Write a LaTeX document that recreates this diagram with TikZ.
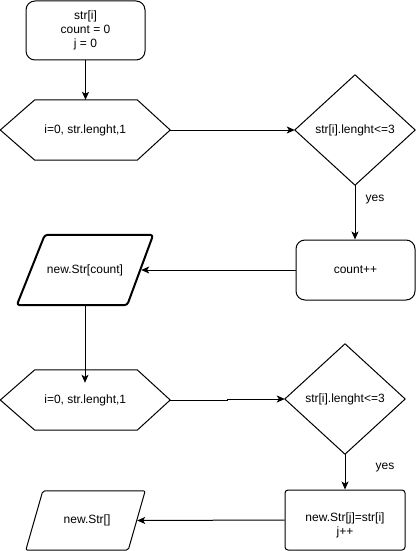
\documentclass[tikz,border=0pt]{standalone}
\usepackage{fontspec}
\setmainfont{Liberation Sans}
\usetikzlibrary{arrows.meta,calc}
\begin{document}
\begin{tikzpicture}[x=1pt,y=-1pt,
  every node/.style={font=\fontsize{12}{14}\selectfont},
  anchorbox/.style 2 args={draw=none, inner sep=0pt, minimum width=#1pt, minimum height=#2pt},
  outline/.style={draw, line width=1pt, line join=round},
  roundbox/.style={draw, line width=1pt, rounded corners=9pt, inner sep=0pt, align=center},
  flow/.style={line width=1pt, -{Stealth[length=8pt,width=7pt,inset=2pt]}}
]
\useasboundingbox (0,0) rectangle (416,551);

% start block
\node[roundbox, minimum width=119pt, minimum height=59pt] (start) at (85.5,30.5) {str[i]\\count = 0\\j = 0};

% first loop header (hexagon)
\node[anchorbox={169.5}{60}] (loop1) at (85.25,130) {i=0, str.lenght,1};
\draw[outline] (loop1.west) -- ($(loop1.north west)+(34.5,0)$) -- ($(loop1.north east)+(-33,0)$)
  -- (loop1.east) -- ($(loop1.south east)+(-33,0)$) -- ($(loop1.south west)+(34.5,0)$) -- cycle;

% first condition
\node[anchorbox={120}{110}] (test1) at (355,130) {str[i].lenght<=3};
\draw[outline] (test1.west) -- (test1.north) -- (test1.east) -- (test1.south) -- cycle;

% counter increment
\node[roundbox, minimum width=119pt, minimum height=60pt] (inc1) at (355.5,270) {count++};

% new array declaration (bold parallelogram)
\node[anchorbox={136}{70}] (out1) at (85,270) {new.Str[count]};
\draw[line width=2pt, rounded corners=3pt, line join=round] ($(out1.north west)+(28,0)$) -- (out1.north east)
  -- ($(out1.south east)+(-26,0)$) -- (out1.south west) -- cycle;
\coordinate (out1r) at ($(out1.east)+(-12,0)$);

% second loop header (hexagon)
\node[anchorbox={169.5}{60}] (loop2) at (85.25,400) {i=0, str.lenght,1};
\draw[outline] (loop2.west) -- ($(loop2.north west)+(34.5,0)$) -- ($(loop2.north east)+(-33,0)$)
  -- (loop2.east) -- ($(loop2.south east)+(-33,0)$) -- ($(loop2.south west)+(34.5,0)$) -- cycle;
\coordinate (into2) at ($(loop2.north)+(0,13)$);

% second condition
\node[anchorbox={120}{110}] (test2) at (345,399) {str[i].lenght<=3};
\draw[outline] (test2.west) -- (test2.north) -- (test2.east) -- (test2.south) -- cycle;

% copy step
\node[roundbox, rounded corners=3pt, minimum width=120pt, minimum height=60pt] (copy) at (345,520) {};
\node[align=center, inner sep=0pt] (copytxt) at (345,525) {new.Str[j]=str[i]\\j++};

% result array (parallelogram)
\node[anchorbox={119}{59}] (out2) at (85.5,520.5) {};
\node[inner sep=0pt] (out2txt) at (87,520) {new.Str[]};
\draw[line width=1pt, rounded corners=2pt, line join=round] ($(out2.north west)+(17,0)$) -- (out2.north east)
  -- ($(out2.south east)+(-17,0)$) -- (out2.south west) -- cycle;
\coordinate (out2r) at ($(out2.east)+(-8,0)$);

% connectors
\draw[flow] (start.south) -- (start.south |- loop1.north);
\draw[flow] (loop1.east) -- (test1.west);
\draw[flow] (test1.south) -- (test1.south |- inc1.north);
\draw[flow] (inc1.west) -- (out1r);
\draw[flow] (out1.south) -- (out1.south |- into2);
\draw[flow] (loop2.east) -- ++(57,0) |- (test2.west);
\draw[flow] (test2.south) -- (test2.south |- copy.north);
\draw[flow] (copy.west) -- (out2r);

% branch labels
\node (yes1) at (375,200) {yes};
\node (yes2) at (385,468) {yes};
\end{tikzpicture}
\end{document}
